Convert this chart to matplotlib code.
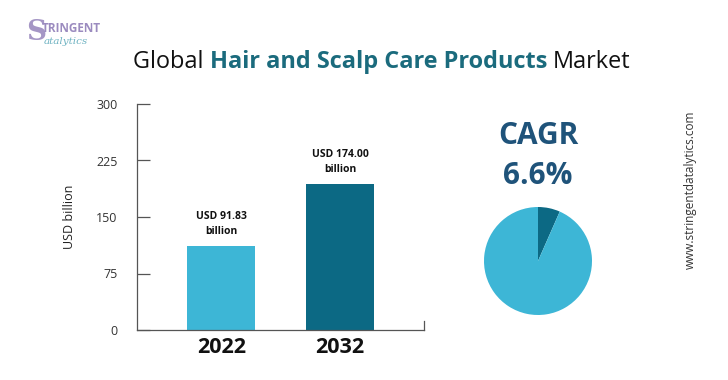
import matplotlib
matplotlib.use("Agg")
import matplotlib.pyplot as plt

# ---- data ----
years = ["2022", "2032"]
bar_heights = [112, 194]          # bar heights as drawn (axis units)
bar_labels = ["USD 91.83\nbillion", "USD 174.00\nbillion"]
bar_colors = ["#3DB6D6", "#0C6984"]
y_ticks = [0, 75, 150, 225, 300]
cagr_text = "CAGR\n6.6%"
pie_values = [6.6, 93.4]
pie_colors = ["#0C6984", "#3DB6D6"]

W, H = 728, 380
fig = plt.figure(figsize=(W / 100, H / 100), dpi=100)
fig.patch.set_facecolor("white")

def fx(px):
    return px / W

def fy(py):
    return 1 - py / H

# ---- bar chart ----
ax_left, ax_right, ax_top, ax_bot = 137, 424, 104, 330
ax = fig.add_axes([fx(ax_left), fy(ax_bot), fx(ax_right - ax_left), (ax_bot - ax_top) / H])
x = list(range(len(years)))
ax.bar(x, bar_heights, width=0.574, color=bar_colors, zorder=2)
ax.set_xlim(-0.713, 1.709)
ax.set_ylim(0, 300)
ax.set_yticks(y_ticks)
ax.set_yticklabels([str(v) for v in y_ticks], fontsize=9, color="#333333", family="Open Sans")
ax.tick_params(axis="y", direction="in", length=9.5, width=0.9, color="#555555", pad=14)
ax.set_xticks(x)
ax.set_xticklabels(years, fontsize=15.5, fontweight="bold", color="#111111", family="Open Sans")
ax.tick_params(axis="x", length=0, pad=5)
for s in ["top", "right"]:
    ax.spines[s].set_visible(False)
for s in ["left", "bottom"]:
    ax.spines[s].set_color("#555555")
    ax.spines[s].set_linewidth(0.9)
ax.axvline(1.709, ymin=0, ymax=0.04, color="#555555", lw=0.9, clip_on=False)
for xi, h, lab in zip(x, bar_heights, bar_labels):
    ax.text(xi, h + 12, lab, ha="center", va="bottom", fontsize=7.5,
            fontweight="bold", color="#111111", family="Open Sans", linespacing=1.5)
ax.set_ylabel("USD billion", fontsize=9, color="#222222", family="Open Sans")
ax.yaxis.set_label_coords((76 - ax_left) / (ax_right - ax_left), 0.5)

# ---- title ----
renderer = fig.canvas.get_renderer()
pieces = [("Global ", "normal", "#111111"),
          ("Hair and Scalp Care Products ", "bold", "#1B6B7D"),
          ("Market", "normal", "#111111")]
xpos = 133
for txt, wt, col in pieces:
    t = fig.text(fx(xpos), fy(62), txt, fontsize=16.95, fontweight=wt, color=col,
                 family="Open Sans", va="center", ha="left")
    bb = t.get_window_extent(renderer=renderer)
    xpos += bb.width

# ---- CAGR ----
fig.text(fx(538), fy(156), cagr_text, fontsize=21.5, fontweight="bold", color="#1F537A",
         family="Open Sans", ha="center", va="center", linespacing=1.4)
pax = fig.add_axes([fx(538 - 54), fy(261 + 54), fx(108), 108 / H])
pax.pie(pie_values, colors=pie_colors, startangle=90, counterclock=False)
pax.set_xlim(-1.0, 1.0)
pax.set_ylim(-1.0, 1.0)
pax.set_aspect("equal")

# ---- website ----
fig.text(fx(690), fy(190), "www.stringentdatalytics.com", rotation=90, fontsize=8.5,
         color="#333333", family="Open Sans", ha="center", va="center")

# ---- logo ----
fig.text(fx(26), fy(32), "S", fontsize=20, fontweight="bold", color="#9B8BBF",
         family="DejaVu Serif", ha="left", va="center", alpha=0.9)
fig.text(fx(42), fy(28), "TRINGENT", fontsize=8.5, fontweight="bold", color="#9B8BBF",
         family="Open Sans", ha="left", va="center")
fig.text(fx(44), fy(42), "atalytics", fontsize=7.5, style="italic", color="#6FB3C2",
         family="DejaVu Serif", ha="left", va="center")

fig.savefig("out.png", dpi=100, facecolor="white")
